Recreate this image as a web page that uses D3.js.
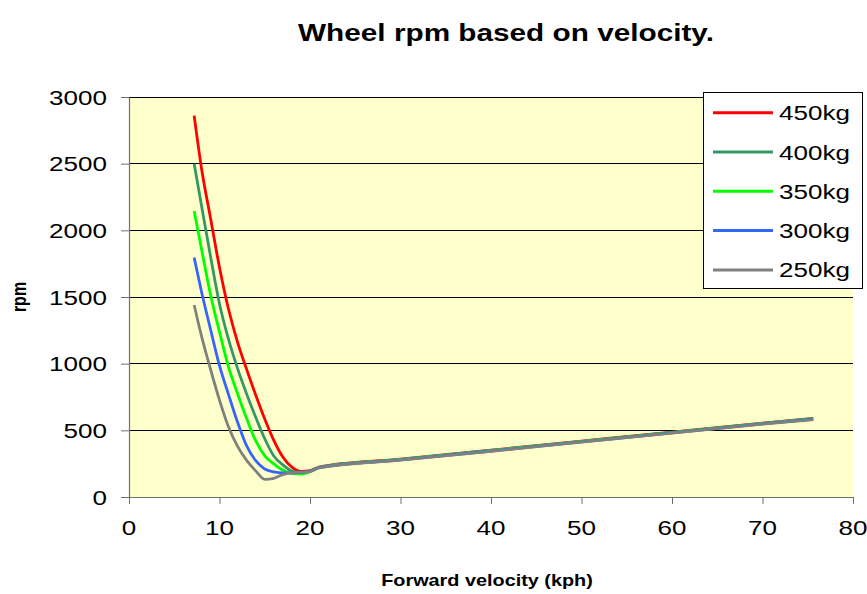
<!DOCTYPE html>
<html>
<head>
<meta charset="utf-8">
<script src="https://cdn.jsdelivr.net/npm/d3@7/dist/d3.min.js"></script>
<style>
  html, body { margin: 0; padding: 0; background: #ffffff; }
  svg { display: block; font-family: "Liberation Sans", Arial, sans-serif; }
</style>
</head>
<body>
<svg id="chart" width="867" height="594"></svg>
<script>
// Forward velocity (kph) at which each series was sampled
const velocity = [7.2, 8, 9, 10, 11, 12, 13, 14, 15, 16, 17, 18, 19, 20, 21, 30, 40, 50, 60, 70, 75.6];

// Wheel rpm per vehicle mass
const rpm450 = [2860, 2470, 2095, 1722, 1408, 1160, 957, 765, 585, 425, 300, 224, 192, 197, 225, 284, 351, 419, 487, 554, 589];
const rpm400 = [2500, 2190, 1808, 1448, 1182, 963, 773, 598, 437, 308, 241, 195, 184, 194, 223, 282, 349, 417, 485, 552, 587];
const rpm350 = [2145, 1864, 1521, 1238, 975, 774, 588, 422, 309, 248, 200, 178, 172, 190, 221, 280, 347, 415, 483, 550, 585];
const rpm300 = [1795, 1543, 1260, 985, 768, 560, 383, 272, 210, 188, 180, 180, 184, 192, 220, 278, 345, 413, 481, 548, 583];
const rpm250 = [1440, 1210, 960, 727, 525, 380, 275, 196, 132, 140, 168, 182, 186, 191, 218, 276, 343, 411, 479, 546, 581];

const seriesNames = ["450kg", "400kg", "350kg", "300kg", "250kg"];
const seriesColors = ["#FF0000", "#339966", "#00FF00", "#3366FF", "#808080"];
const seriesValues = [rpm450, rpm400, rpm350, rpm300, rpm250];

const xTicks = [0, 10, 20, 30, 40, 50, 60, 70, 80];
const yTicks = [0, 500, 1000, 1500, 2000, 2500, 3000];

const titleText = "Wheel rpm based on velocity.";
const xTitle = "Forward velocity (kph)";
const yTitle = "rpm";

// Text in this chart is rendered slightly widened
const SX = 1.24;

const svg = d3.select("#chart");
const plot = { left: 129, right: 853, top: 97, bottom: 497 };

const x = d3.scaleLinear().domain([0, 80]).range([plot.left, plot.right]);
const y = d3.scaleLinear().domain([0, 3000]).range([plot.bottom, plot.top]);

function wideText(parent, tx, ty, str, opts) {
  const t = parent.append("text")
    .attr("transform", `translate(${tx},${ty}) scale(${SX},1)` + (opts.rotate ? ` rotate(${opts.rotate})` : ""))
    .attr("text-anchor", opts.anchor || "start")
    .attr("font-size", opts.size)
    .attr("font-weight", opts.weight || "normal")
    .attr("fill", "#000")
    .text(str);
  if (opts.dy) t.attr("dy", opts.dy);
  return t;
}

// Plot area background
svg.append("rect")
  .attr("x", plot.left).attr("y", plot.top)
  .attr("width", plot.right - plot.left).attr("height", plot.bottom - plot.top)
  .attr("fill", "#FFFFCC");

// Horizontal gridlines
svg.append("g").selectAll("line")
  .data(yTicks.filter(d => d > 0))
  .join("line")
  .attr("x1", plot.left).attr("x2", plot.right)
  .attr("y1", d => y(d)).attr("y2", d => y(d))
  .attr("stroke", "#000").attr("stroke-width", 1)
  .attr("shape-rendering", "crispEdges");

// Axes (lines and ticks from d3, labels drawn widened)
const yAxis = svg.append("g")
  .attr("transform", `translate(${plot.left},0)`)
  .call(d3.axisLeft(y).tickValues(yTicks).tickSize(8).tickSizeOuter(0).tickFormat(""));
const xAxis = svg.append("g")
  .attr("transform", `translate(0,${plot.bottom})`)
  .call(d3.axisBottom(x).tickValues(xTicks).tickSize(7).tickSizeOuter(0).tickFormat(""));
[yAxis, xAxis].forEach(a => {
  a.select(".domain").attr("stroke", "#707070").attr("stroke-width", 1.2);
  a.selectAll(".tick line").attr("stroke", "#707070");
  a.selectAll(".tick text").remove();
});

const labels = svg.append("g");
yTicks.forEach(v => wideText(labels, 107, y(v), String(v), { anchor: "end", size: 21, dy: "0.36em" }));
xTicks.forEach(v => wideText(labels, x(v), 535, String(v), { anchor: "middle", size: 21 }));

// Titles
wideText(svg, 506, 41, titleText, { anchor: "middle", size: 24, weight: "bold" });
wideText(svg, 487, 586, xTitle, { anchor: "middle", size: 16, weight: "bold" });
wideText(svg, 26, 297, yTitle, { anchor: "middle", size: 16, weight: "bold", rotate: -90 });

// Series lines
const line = d3.line()
  .x((d, i) => x(velocity[i]))
  .y(d => y(d))
  .curve(d3.curveMonotoneX);

svg.append("g").selectAll("path")
  .data(seriesValues)
  .join("path")
  .attr("d", d => line(d))
  .attr("fill", "none")
  .attr("stroke", (d, i) => seriesColors[i])
  .attr("stroke-width", 2.8)
  .attr("stroke-linejoin", "round");

// Legend
const legend = svg.append("g");
legend.append("rect")
  .attr("x", 703.5).attr("y", 92.5).attr("width", 159).attr("height", 196)
  .attr("fill", "#fff").attr("stroke", "#000").attr("stroke-width", 1);
seriesNames.forEach((name, i) => {
  const ly = 112.7 + i * 39.3;
  legend.append("line")
    .attr("x1", 713).attr("x2", 773).attr("y1", ly).attr("y2", ly)
    .attr("stroke", seriesColors[i]).attr("stroke-width", 3);
  wideText(legend, 779, ly, name, { size: 21, dy: "0.36em" });
});
</script>
</body>
</html>
